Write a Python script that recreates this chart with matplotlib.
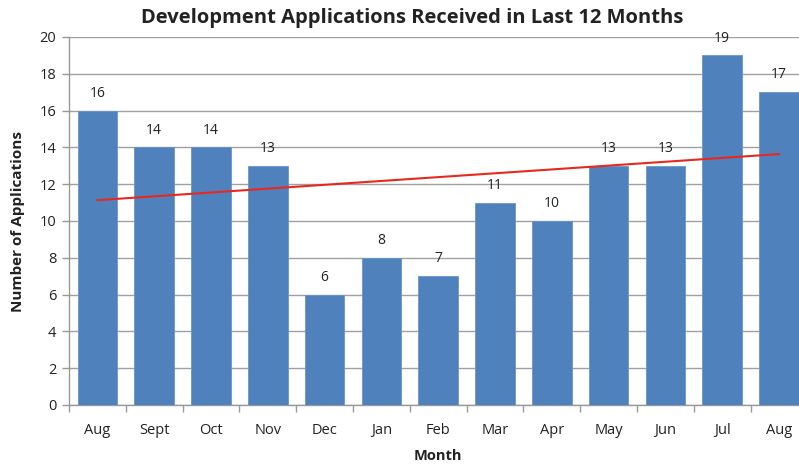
import matplotlib
matplotlib.use("Agg")
import matplotlib.pyplot as plt
import numpy as np

months = ["Aug", "Sept", "Oct", "Nov", "Dec", "Jan", "Feb", "Mar", "Apr", "May", "Jun", "Jul", "Aug"]
applications = [16, 14, 14, 13, 6, 8, 7, 11, 10, 13, 13, 19, 17]
yticks = [0, 2, 4, 6, 8, 10, 12, 14, 16, 18, 20]

plt.rcParams['font.family'] = ['Open Sans', 'DejaVu Sans']

W, H = 799, 468
fig = plt.figure(figsize=(W / 100, H / 100), dpi=100)
left, right_px, top, bottom = 69, 69 + 13 * 56.8, 37, 405
ax = fig.add_axes([left / W, 1 - bottom / H, (right_px - left) / W, (bottom - top) / H])

x = np.arange(len(months))
ax.bar(x, applications, width=0.70, color='#4F81BD', edgecolor='#6A95C8', linewidth=0.6, zorder=3)
for xi, v in zip(x, applications):
    ax.annotate(str(v), (xi, v), xytext=(0, 7), textcoords='offset points',
                ha='center', va='bottom', fontsize=10, color='#222222', zorder=5)

coef = np.polyfit(x, applications, 1)
ax.plot([x[0], x[-1]], np.polyval(coef, [x[0], x[-1]]), color='#E8281E', linewidth=1.5, zorder=4)

ax.set_xlim(-0.5, len(months) - 0.5)
ax.set_ylim(0, 20)
ax.set_yticks(yticks)
ax.set_yticklabels([str(t) for t in yticks], fontsize=10.5, color='#222222')
ax.set_xticks(x)
ax.set_xticklabels(months, fontsize=10.5, color='#222222')
ax.set_xticks(np.arange(-0.5, len(months), 1), minor=True)
ax.tick_params(axis='x', which='major', length=0, pad=13)
ax.tick_params(axis='x', which='minor', length=5, color='#999999', width=1)
ax.tick_params(axis='y', length=5, color='#999999', width=1, pad=4)
ax.grid(axis='y', color='#A0A0A0', linewidth=1, zorder=0)
for s in ['top', 'right']:
    ax.spines[s].set_visible(False)
for s in ['left', 'bottom']:
    ax.spines[s].set_color('#999999')
    ax.spines[s].set_linewidth(1)

ax.set_xlabel("Month", fontsize=10.5, fontweight='bold', color='#222222', labelpad=8)
fig.text(18 / W, 1 - 221 / H, "Number of Applications", rotation=90, ha='center', va='center',
         fontsize=11, fontweight='bold', color='#222222')
fig.text(412 / W, 1 - 18 / H, "Development Applications Received in Last 12 Months",
         ha='center', va='center', fontsize=14.5, fontweight='bold', color='#222222')

fig.savefig("out.png", dpi=100)
